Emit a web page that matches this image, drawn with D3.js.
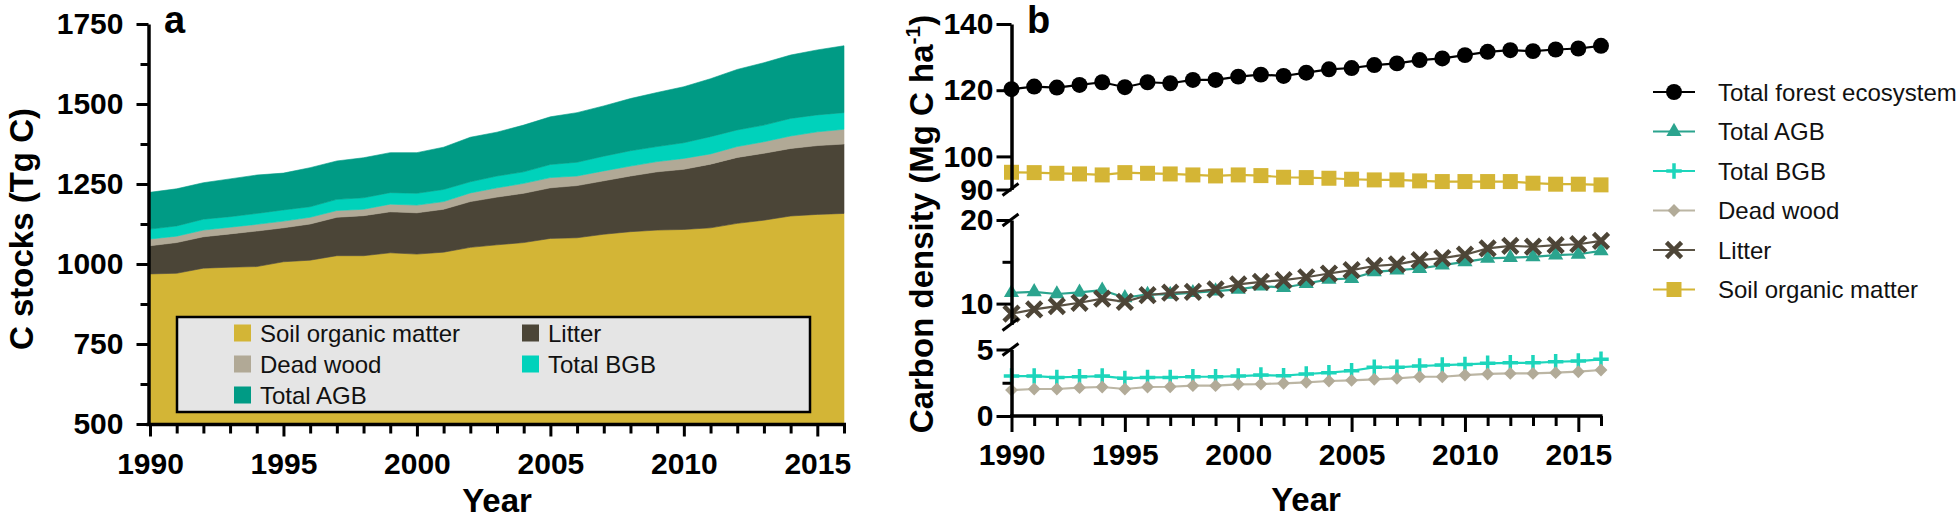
<!DOCTYPE html>
<html><head><meta charset="utf-8">
<script src="https://cdn.jsdelivr.net/npm/d3@7"></script>
<style>
body{margin:0;background:#fff}
svg{display:block}
text{font-family:Arial,"Liberation Sans",sans-serif}
</style>
</head><body>
<svg id="c" width="1960" height="520"></svg>
<script>
// ---------------- DATA ----------------
const years = [1990,1991,1992,1993,1994,1995,1996,1997,1998,1999,2000,2001,2002,2003,2004,2005,2006,2007,2008,2009,2010,2011,2012,2013,2014,2015,2016];

// Panel a: C stocks (Tg C), stacked components
const stockSOM      = [969,971,987,990,992,1007,1012,1026,1026,1035,1031,1037,1052,1060,1067,1080,1082,1093,1101,1106,1108,1113,1127,1137,1150,1155,1158];
const stockLitter   = [88,96,98,104,111,106,113,120,125,128,129,134,143,149,154,158,163,167,174,182,188,199,206,209,211,215,217];
const stockDeadWood = [21,20,21,21,21,21,21,21,20,24,24,24,27,29,31,32,30,31,31,32,34,32,34,36,39,43,46];
const stockBGB      = [31,32,34,33,34,35,33,35,36,36,37,38,35,37,36,41,43,46,48,47,49,54,52,52,55,53,52];
const stockAGB      = [115,116,114,118,120,115,122,120,125,125,127,132,139,137,146,149,155,157,163,169,175,181,189,195,198,203,209];

const stockKeys   = ["Soil organic matter","Litter","Dead wood","Total BGB","Total AGB"];
const yTicksA     = [500,750,1000,1250,1500,1750];
const yMinorA     = [625,875,1125,1375,1625];
const xTickLabels = [1990,1995,2000,2005,2010,2015];

// Panel b: carbon density (Mg C ha-1)
const densTotal    = [120.3,121.1,120.8,121.6,122.4,120.9,122.4,122.1,123.1,123.1,124.1,124.7,124.3,125.3,126.3,126.7,127.6,128.1,129.1,129.6,130.6,131.6,132.1,131.8,132.3,132.6,133.4];
const densAGB      = [11.3,11.4,11.15,11.35,11.6,10.7,11.1,11.1,11.3,11.5,11.7,12.1,11.9,12.4,12.9,13.0,13.8,14.0,14.2,14.6,15.0,15.4,15.5,15.6,15.8,15.9,16.3];
const densBGB      = [3.0,3.0,2.9,2.95,3.0,2.83,2.9,2.9,2.95,2.95,3.0,3.08,3.03,3.16,3.26,3.4,3.66,3.66,3.76,3.83,3.88,3.96,4.0,4.0,4.08,4.13,4.26];
const densDeadWood = [1.95,2.03,2.03,2.13,2.18,2.03,2.18,2.2,2.28,2.28,2.38,2.4,2.46,2.53,2.63,2.68,2.76,2.83,2.95,2.95,3.08,3.16,3.2,3.2,3.26,3.33,3.46];
const densLitter   = [8.8,9.3,9.7,10.1,10.6,10.2,11.0,11.3,11.4,11.7,12.3,12.6,12.8,13.15,13.6,14.0,14.5,14.7,15.2,15.45,15.85,16.6,16.9,16.8,17.0,17.1,17.5];
const densSOM      = [95.2,95.1,94.9,94.7,94.4,95.1,94.9,94.7,94.4,94.1,94.4,94.2,93.7,93.6,93.4,93.1,92.9,92.9,92.6,92.4,92.4,92.4,92.4,91.9,91.6,91.6,91.4];

const seriesBNames = ["Total forest ecosystem","Total AGB","Total BGB","Dead wood","Litter","Soil organic matter"];
const yTicksB = [[0,5],[10,20],[90,100,120,140]];
const yMinorB = [[2.5],[15],[]];
const segDomains = [[0,5],[7.5,20],[90,140]];

// ---------------- STYLE ----------------
const areaColor = {"Soil organic matter":"#d3b536","Litter":"#4b4537","Dead wood":"#b1a996","Total BGB":"#00d2bb","Total AGB":"#009b85"};

const svg = d3.select("#c");

// ================= PANEL A =================
const xA = d3.scaleLinear().domain([1990,2016]).range([150,844]);
const yA = d3.scaleLinear().domain([500,1750]).range([424,24]);

const rowsA = years.map((yr,i)=>({year:yr,
  "Soil organic matter":stockSOM[i],"Litter":stockLitter[i],"Dead wood":stockDeadWood[i],
  "Total BGB":stockBGB[i],"Total AGB":stockAGB[i]}));
const stacked = d3.stack().keys(stockKeys)(rowsA);
const areaGen = d3.area().x(d=>xA(d.data.year)).y0(d=>yA(Math.max(500,d[0]))).y1(d=>yA(d[1]));
const gA = svg.append("g");
gA.selectAll("path.layer").data(stacked).join("path")
  .attr("class","layer").attr("d",areaGen)
  .attr("fill",d=>areaColor[d.key]).attr("stroke",d=>areaColor[d.key]).attr("stroke-width",0.6);

// legend a
const lg = gA.append("g");
lg.append("rect").attr("x",177).attr("y",317).attr("width",633).attr("height",95)
  .attr("fill","#e5e5e5").attr("stroke","#000").attr("stroke-width",2.5);
const legPos = [[234,333],[522,333],[234,364],[522,364],[234,395]];
const legOrder = ["Soil organic matter","Litter","Dead wood","Total BGB","Total AGB"];
legOrder.forEach((k,i)=>{
  const [lx,ly]=legPos[i];
  lg.append("rect").attr("x",lx).attr("y",ly-8.5).attr("width",17).attr("height",17).attr("fill",areaColor[k]);
  lg.append("text").attr("x",lx+26).attr("y",ly+8.5).attr("font-size",24).attr("fill","#111").text(k);
});

// axes a
const axLA = d3.axisLeft(yA).tickValues(yMinorA.concat(yTicksA)).tickSize(12).tickSizeOuter(0).tickPadding(13)
  .tickFormat(d=>yTicksA.includes(d)?d:"");
const gyA = svg.append("g").attr("transform","translate(148.5,0)").call(axLA);
const axBA = d3.axisBottom(xA).tickValues(years).tickSize(12).tickSizeOuter(0).tickPadding(16)
  .tickFormat(d=>xTickLabels.includes(d)?d:"");
const gxA = svg.append("g").attr("transform","translate(0,424.5)").call(axBA);
gyA.selectAll(".tick line").filter(d=>!yTicksA.includes(d)).attr("x2",-8);
gxA.selectAll(".tick line").filter(d=>!xTickLabels.includes(d)).attr("y2",9);
[gyA,gxA].forEach(g=>{
  g.select(".domain").attr("stroke-width",3.5).attr("stroke","#000");
  g.selectAll(".tick line").attr("stroke-width",3).attr("stroke","#000");
  g.selectAll(".tick text").attr("font-size",30).attr("font-weight","bold").attr("fill","#000")
   .style("font-family","Arial,'Liberation Sans',sans-serif");
});
gxA.select(".domain").attr("d","M146.5,0H846");
svg.append("text").attr("transform","translate(33,229) rotate(-90)").attr("text-anchor","middle")
  .attr("font-size",33).attr("font-weight","bold").text("C stocks (Tg C)");
svg.append("text").attr("x",497).attr("y",512).attr("text-anchor","middle")
  .attr("font-size",33).attr("font-weight","bold").text("Year");
svg.append("text").attr("x",164).attr("y",33).attr("font-size",38).attr("font-weight","bold").text("a");

// ================= PANEL B =================
const axX = 1011.5;
const xB = d3.scaleLinear().domain([1990,2016]).range([axX,1601]);
const segRanges = [[416,349.5],[324.5,220],[189.5,24]];
const segScales = segDomains.map((dm,i)=>d3.scaleLinear().domain(dm).range(segRanges[i]));
function yB(v){
  if(v<=6.25) return segScales[0](v);
  if(v<=50) return segScales[1](v);
  return segScales[2](v);
}

const seriesB = [
  {name:"Total forest ecosystem",vals:densTotal,color:"#000",line:"#000",type:d3.symbolCircle,size:200,mode:"fill"},
  {name:"Total AGB",vals:densAGB,color:"#2ba48e",line:"#2ba48e",type:d3.symbolTriangle,size:100,mode:"fill"},
  {name:"Total BGB",vals:densBGB,color:"#1cd5bb",line:"#1cd5bb",type:d3.symbolPlus,size:80,mode:"stroke",sw:3.5},
  {name:"Dead wood",vals:densDeadWood,color:"#b2ab98",line:"#bcb6a4",type:d3.symbolDiamond2,size:105,mode:"fill"},
  {name:"Litter",vals:densLitter,color:"#4d4537",line:"#5a5244",type:d3.symbolTimes,size:150,mode:"stroke",sw:4.5},
  {name:"Soil organic matter",vals:densSOM,color:"#d4b535",line:"#d4b535",type:d3.symbolSquare,size:225,mode:"fill"}
];

const gB = svg.append("g");
const lineGen = d3.line().x(d=>xB(d.year)).y(d=>yB(d.v));
seriesB.forEach(s=>{
  const pts = years.map((yr,i)=>({year:yr,v:s.vals[i]}));
  gB.append("path").datum(pts).attr("d",lineGen).attr("fill","none").attr("stroke",s.line).attr("stroke-width",2.2);
  const sym = d3.symbol().type(s.type).size(s.size);
  gB.selectAll(null).data(pts).join("path")
    .attr("transform",d=>`translate(${xB(d.year)},${yB(d.v)})`)
    .attr("d",sym)
    .attr("fill",s.mode==="fill"?s.color:"none")
    .attr("stroke",s.mode==="stroke"?s.color:"none")
    .attr("stroke-width",s.sw||0);
});

// axes b: segmented y axis
segScales.forEach((sc,i)=>{
  const ax = d3.axisLeft(sc).tickValues(yMinorB[i].concat(yTicksB[i])).tickSize(15).tickSizeOuter(0).tickPadding(3)
    .tickFormat(d=>yTicksB[i].includes(d)?d:"");
  const g = svg.append("g").attr("transform",`translate(${axX},0)`).call(ax);
  g.select(".domain").attr("stroke-width",3.5).attr("stroke","#000");
  g.selectAll(".tick line").attr("stroke-width",3).attr("stroke","#000");
  g.selectAll(".tick line").filter(d=>!yTicksB[i].includes(d)).attr("x2",-9).attr("x1",0);
  g.selectAll(".tick text").attr("font-size",30).attr("font-weight","bold").attr("fill","#000")
    .style("font-family","Arial,'Liberation Sans',sans-serif");
});
// break marks
const breakYs = [349.5,324.5,220,189.5];
svg.append("g").selectAll("line").data(breakYs).join("line")
  .attr("x1",axX-9).attr("x2",axX+7).attr("y1",d=>d+6).attr("y2",d=>d-6)
  .attr("stroke","#000").attr("stroke-width",3);

const axBB = d3.axisBottom(xB).tickValues(years).tickSize(16).tickSizeOuter(0).tickPadding(12)
  .tickFormat(d=>xTickLabels.includes(d)?d:"");
const gxB = svg.append("g").attr("transform","translate(0,416)").call(axBB);
gxB.selectAll(".tick line").filter(d=>!xTickLabels.includes(d)).attr("y2",10);
gxB.select(".domain").attr("stroke-width",3.5).attr("stroke","#000").attr("d",`M${axX-1.5},0H1602.5`);
gxB.selectAll(".tick line").attr("stroke-width",3).attr("stroke","#000");
gxB.selectAll(".tick text").attr("font-size",30).attr("font-weight","bold").attr("fill","#000")
  .style("font-family","Arial,'Liberation Sans',sans-serif");

const yt = svg.append("text").attr("transform","translate(933,224) rotate(-90)").attr("text-anchor","middle")
  .attr("font-size",33).attr("font-weight","bold");
yt.append("tspan").text("Carbon density (Mg C ha");
yt.append("tspan").attr("font-size",21).attr("dy",-13).text("-1");
yt.append("tspan").attr("dy",13).text(")");
svg.append("text").attr("x",1306).attr("y",511).attr("text-anchor","middle")
  .attr("font-size",33).attr("font-weight","bold").text("Year");
svg.append("text").attr("x",1027).attr("y",33).attr("font-size",38).attr("font-weight","bold").text("b");

// legend b
const lgB = svg.append("g");
const legRowsY = [92,131.5,171,210.5,250,289.5];
seriesB.forEach((s,i)=>{
  const ly = legRowsY[i];
  lgB.append("line").attr("x1",1653).attr("x2",1695).attr("y1",ly).attr("y2",ly).attr("stroke",s.line).attr("stroke-width",2.2);
  lgB.append("path").attr("transform",`translate(1674,${ly})`).attr("d",d3.symbol().type(s.type).size(s.size)())
    .attr("fill",s.mode==="fill"?s.color:"none").attr("stroke",s.mode==="stroke"?s.color:"none").attr("stroke-width",s.sw||0);
  lgB.append("text").attr("x",1718).attr("y",ly+8.5).attr("font-size",24).attr("fill","#111").text(s.name);
});
</script>
</body></html>
